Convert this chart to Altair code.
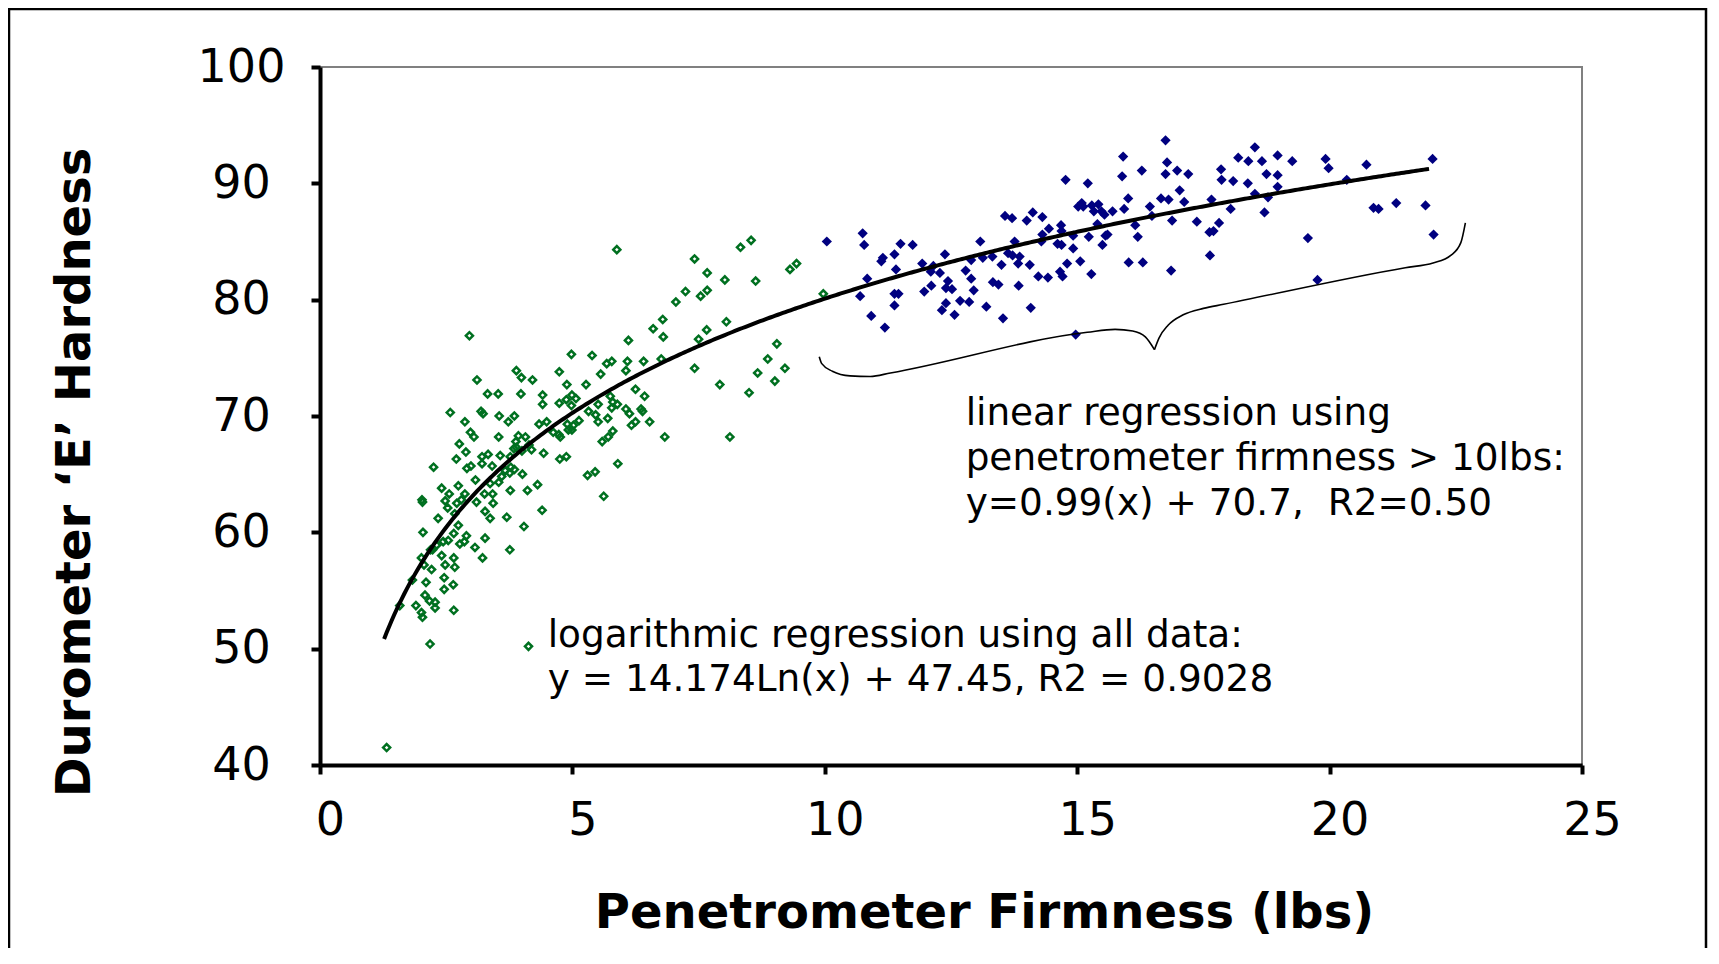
import altair as alt
import pandas as pd

# ---- data ----
green_x = [2.96, 5.88, 7.42, 8.33, 8.54, 7.67, 8.02, 8.63, 9.31, 9.44, 9.97, 7.24, 7.67, 7.54, 7.05, 6.60, 6.79, 6.80,
           7.66, 7.50, 8.05, 6.11, 7.42, 7.92, 8.50, 8.67, 8.87, 9.05, 9.21, 9.01, 8.12, 6.83, 4.98, 5.39, 5.68, 5.78,
           6.09, 6.41, 6.76, 5.56, 6.06, 6.25, 6.43, 4.74, 3.89, 3.99, 4.21, 3.11, 3.32, 3.53, 3.98, 4.41, 4.89, 5.27,
           4.41, 4.74, 4.99, 5.07, 4.98, 2.58, 2.87, 3.19, 3.23, 3.55, 3.73, 3.85, 4.49, 4.34, 4.88, 5.32, 5.51, 5.75,
           5.80, 5.89, 5.78, 6.06, 6.13, 6.36, 6.39, 6.17, 6.25, 6.53, 5.70, 5.46, 5.51, 5.13, 5.02, 4.90, 4.73, 4.76,
           4.62, 4.92, 4.99, 5.80, 5.71, 5.59, 2.98, 3.05, 2.76, 2.89, 2.70, 2.25, 3.54, 3.93, 3.88, 4.07, 4.14, 3.89,
           3.84, 4.00, 4.19, 4.43, 4.75, 4.88, 5.90, 5.30, 5.45, 5.62, 3.21, 3.33, 3.21, 3.41, 3.57, 2.99, 2.91, 3.77,
           3.78, 3.85, 4.01, 3.60, 3.54, 3.37, 3.08, 2.74, 2.41, 2.56, 2.87, 3.26, 3.42, 3.77, 4.11, 4.31, 2.02, 3.67,
           3.76,
           2.03, 2.04, 2.34, 2.48, 2.53, 2.71, 2.80, 2.67, 2.74, 2.90, 2.86, 2.77, 2.65, 2.54, 2.44, 2.31, 2.23, 2.41,
           2.65, 2.48, 2.67, 2.19, 2.01, 2.06, 2.21, 2.10, 2.46, 2.64, 2.46, 2.08, 2.17, 2.28, 2.28, 1.90, 2.01, 2.03,
           1.58, 1.83, 2.65, 3.07, 3.22, 3.27, 3.37, 3.70, 3.76, 4.04, 4.40, 3.27, 3.10, 3.43, 2.18, 4.13, 1.32]
green_y = [76.9, 84.3, 83.5, 84.5, 85.1, 82.3, 81.7, 81.6, 82.6, 83.1, 80.5, 80.7, 80.8, 80.3, 79.8, 77.5, 78.3, 76.8,
           77.4, 76.6, 78.1, 76.5, 74.1, 72.7, 72.0, 73.7, 74.9, 76.2, 74.1, 73.0, 68.2, 68.2, 75.3, 75.2, 74.5, 74.7,
           74.7, 74.7, 74.9, 73.6, 73.9, 72.3, 71.7, 73.8, 73.9, 73.3, 73.1, 73.1, 71.9, 71.9, 71.9, 71.8, 72.7, 72.7,
           71.0, 71.1, 71.8, 71.5, 70.9, 70.3, 69.5, 70.4, 70.2, 70.0, 69.5, 70.0, 69.5, 69.3, 71.4, 70.4, 71.0, 71.7,
           71.2, 71.0, 70.7, 70.6, 70.2, 70.6, 70.4, 69.2, 69.5, 69.5, 69.8, 70.1, 69.5, 69.6, 69.2, 69.3, 68.4, 68.2,
           68.6, 68.8, 68.8, 68.7, 68.2, 67.8, 68.6, 68.2, 67.6, 66.9, 66.3, 65.6, 68.2, 68.3, 67.8, 68.2, 67.5, 67.3,
           67.2, 67.0, 67.1, 66.8, 66.3, 66.5, 65.9, 64.9, 65.2, 63.1, 66.5, 66.7, 65.9, 65.7, 66.6, 65.7, 65.5, 66.5,
           65.6, 65.4, 65.0, 64.8, 64.3, 64.2, 64.5, 64.0, 63.8, 63.3, 63.3, 63.3, 63.3, 63.6, 63.6, 64.1, 62.8, 65.3,
           65.1,
           62.6, 60.0, 61.2, 62.7, 62.1, 62.5, 62.8, 61.6, 60.6, 59.7, 59.2, 59.0, 59.9, 59.3, 59.2, 58.9, 58.5, 58.0,
           57.8, 57.2, 57.0, 58.5, 57.8, 57.2, 56.8, 55.7, 56.1, 55.5, 55.1, 54.6, 54.1, 54.0, 53.5, 53.7, 53.1, 52.7,
           53.7, 55.9, 53.3, 58.7, 57.8, 59.5, 61.2, 61.3, 58.5, 60.5, 61.9, 61.8, 62.6, 62.5, 50.4, 50.2, 41.5]

blue_x = [10.04, 10.75, 10.78, 11.15, 11.12, 11.38, 11.50, 11.74, 11.41, 10.84, 10.70, 10.92, 11.19, 11.38, 11.46,
          11.38, 11.93, 12.15, 12.10, 11.97, 12.11, 12.28, 12.38, 12.44, 12.40, 12.52, 12.40, 12.32, 12.57, 12.68,
          12.86, 12.95, 12.90, 12.79, 12.90, 13.08, 13.13, 13.32, 13.20, 13.33, 13.44, 13.50, 13.53, 13.63, 13.76,
          13.72, 13.83, 13.86, 13.84, 14.08, 14.06, 14.00, 14.12, 14.31, 13.57, 13.71, 14.23, 14.42, 14.29, 14.31,
          14.44, 14.68, 14.69, 14.61, 14.69, 14.66, 14.71, 14.80, 14.92, 14.92, 15.06, 15.28, 15.23, 15.40, 15.50,
          15.56, 15.60, 15.54, 15.48, 15.33, 15.29, 15.09, 15.02, 15.12, 15.42, 15.70, 15.93, 16.15, 16.20, 16.02,
          16.30, 16.86, 16.88, 16.48, 16.44, 16.66, 16.81, 17.12, 17.37, 17.62, 17.70, 17.81, 18.04, 17.66, 17.63,
          17.03, 16.75, 16.98, 17.20, 16.78, 16.75, 15.91, 15.89, 16.28, 16.01, 14.77, 15.21, 17.85, 17.86, 18.09,
          18.19, 18.39, 18.52, 18.66, 18.38, 18.75, 18.97, 18.97, 18.97, 18.52, 18.78, 18.71, 19.26, 19.57, 19.76,
          19.92, 19.98, 20.34, 20.73, 20.87, 20.97, 21.32, 21.90, 22.04, 22.06, 14.97]
blue_y = [85.0, 85.7, 84.7, 83.6, 83.3, 83.9, 84.8, 84.7, 82.6, 81.8, 80.3, 78.6, 77.6, 80.5, 80.5,
          79.5, 83.1, 82.9, 82.4, 80.7, 81.2, 82.3, 83.9, 81.6, 81.0, 80.9, 79.7, 79.1, 78.7, 79.9,
          79.8, 80.8, 81.8, 82.5, 83.4, 85.0, 83.6, 83.7, 79.4, 81.5, 81.3, 83.0, 78.4, 84.0, 85.0,
          83.8, 83.1, 83.7, 81.2, 79.3, 83.0, 86.8, 87.5, 87.1, 87.2, 87.0, 82.0, 81.9, 85.0, 85.6,
          86.1, 86.4, 85.9, 84.8, 84.7, 82.4, 82.0, 83.1, 84.4, 85.5, 83.3, 82.2, 85.4, 86.5, 84.7,
          85.5, 85.6, 87.3, 87.6, 87.6, 88.1, 88.3, 88.0, 88.0, 88.2, 87.6, 87.8, 86.4, 85.4, 83.2,
          83.2, 82.5, 86.8, 87.2, 88.0, 88.7, 88.6, 88.4, 86.7, 85.8, 85.9, 86.6, 87.8, 88.6, 83.8,
          89.4, 90.8, 91.1, 90.8, 91.8, 93.7, 92.3, 90.6, 91.1, 88.7, 90.3, 90.0, 91.2, 90.3, 90.2,
          92.2, 91.9, 93.1, 91.9, 90.0, 90.8, 92.4, 90.7, 89.7, 89.1, 88.8, 87.5, 91.9, 85.3, 81.7,
          92.1, 91.3, 90.3, 91.6, 87.9, 87.8, 88.3, 88.1, 92.1, 85.6, 77.0]

# fitted curve stated on the chart: y = 14.174 Ln(x) + 47.45
log_coef = 14.174
log_intercept = 47.45
curve_start, curve_end = 1.27, 22.0

# curly brace below the linear-regression points (data coordinates)
brace_seg = ["left"] * 11 + ["right"] * 11
brace_x = [9.89, 9.94, 10.15, 10.5, 10.9, 11.3, 15.2, 15.75, 16.1, 16.35, 16.53,
           16.53, 16.62, 16.8, 17.1, 17.5, 17.9, 21.5, 22.05, 22.4, 22.6, 22.69]
brace_y = [75.1, 74.5, 73.85, 73.45, 73.4, 73.7, 77.2, 77.45, 77.3, 76.8, 75.7,
           75.7, 76.7, 77.8, 78.7, 79.25, 79.6, 82.75, 83.15, 83.8, 84.9, 86.6]

note_text = ["linear regression using", "penetrometer firmness > 10lbs:", "y=0.99(x) + 70.7,\u00a0\u00a0R2=0.50",
             "logarithmic regression using all data:", "y = 14.174Ln(x) + 47.45, R2 = 0.9028"]
note_x = [12.79, 12.79, 12.79, 4.51, 4.51]
note_y = [70.2, 66.3, 62.4, 51.1, 47.3]

x_ticks = [0, 5, 10, 15, 20, 25]
y_ticks = [40, 50, 60, 70, 80, 90, 100]

W, H = 1262, 698
FONT = "DejaVu Sans"

green_df = pd.DataFrame({"x": green_x, "y": green_y})
blue_df = pd.DataFrame({"x": blue_x, "y": blue_y})
brace_df = pd.DataFrame({"seg": brace_seg, "x": brace_x, "y": brace_y})
note_df = pd.DataFrame({"text": note_text, "x": note_x, "y": note_y})

xscale = alt.Scale(domain=[0, 25], nice=False, zero=False)
yscale = alt.Scale(domain=[40, 100], nice=False, zero=False)

x_axis = alt.Axis(values=x_ticks, title="Penetrometer Firmness (lbs)", grid=False,
                  domainColor="black", domainWidth=4, tickColor="black", tickWidth=4, tickSize=9,
                  labelFontSize=46, labelPadding=24, labelOffset=10, labelFlush=False,
                  labelColor="black", labelFont=FONT,
                  titleFontSize=48, titleFontWeight="bold", titleFont=FONT, titleColor="black",
                  titleX=664, titleY=148, titleBaseline="middle", titleAlign="center")
y_axis = alt.Axis(values=y_ticks, title="Durometer ‘E’ Hardness", grid=False,
                  domainColor="black", domainWidth=4, tickColor="black", tickWidth=4, tickSize=9,
                  labelFontSize=46, labelPadding=70, labelAlign="center", labelBaseline="middle",
                  labelFlush=False, labelColor="black", labelFont=FONT,
                  titleFontSize=48, titleFontWeight="bold", titleFont=FONT, titleColor="black",
                  titleX=-245, titleY=405, titleAngle=270, titleAlign="center", titleBaseline="middle")

frame = alt.Chart(pd.DataFrame({"k": [0]})).mark_rect(
    fillOpacity=0, stroke="black", strokeWidth=2.5
).encode(x=alt.value(-311), x2=alt.value(W + 124), y=alt.value(-58), y2=alt.value(H + 400))

green = alt.Chart(green_df).mark_point(
    shape="diamond", filled=False, stroke="#007020", strokeWidth=2.5, size=50, opacity=1
).encode(x=alt.X("x:Q", scale=xscale, axis=x_axis), y=alt.Y("y:Q", scale=yscale, axis=y_axis))

blue = alt.Chart(blue_df).mark_point(
    shape="diamond", filled=True, color="#000080", size=105, opacity=1
).encode(x=alt.X("x:Q", scale=xscale), y=alt.Y("y:Q", scale=yscale))

curve = alt.Chart(alt.sequence(curve_start, curve_end + 0.01, 0.05, as_="x")).transform_calculate(
    y=f"{log_coef} * log(datum.x) + {log_intercept}"
).mark_line(color="black", strokeWidth=4).encode(
    x=alt.X("x:Q", scale=xscale), y=alt.Y("y:Q", scale=yscale))

brace = alt.Chart(brace_df).mark_line(color="black", strokeWidth=1.6, interpolate="monotone").encode(
    x=alt.X("x:Q", scale=xscale), y=alt.Y("y:Q", scale=yscale), detail="seg:N")

notes = alt.Chart(note_df).mark_text(
    align="left", baseline="middle", fontSize=37.4, font=FONT, color="black"
).encode(x=alt.X("x:Q", scale=xscale), y=alt.Y("y:Q", scale=yscale), text="text:N")

chart = alt.layer(frame, green, blue, curve, brace, notes).properties(
    width=W, height=H,
    autosize=alt.AutoSizeParams(type="none"),
    padding={"left": 312, "top": 59, "right": 126, "bottom": 183},
).configure(
    font=FONT, background="white",
    view=alt.ViewConfig(stroke="#808080", strokeWidth=2),
)

chart.save("out.html", embed_options={"renderer": "svg", "actions": False})
